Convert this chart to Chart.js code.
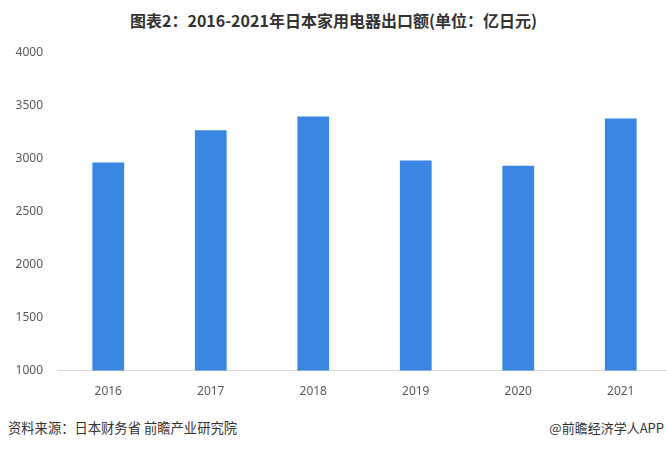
<!DOCTYPE html>
<html>
<head>
<meta charset="utf-8">
<script src="https://cdn.jsdelivr.net/npm/chart.js@4.4.1/dist/chart.umd.min.js"></script>
<style>
    html, body { margin: 0; padding: 0; background: #fff; overflow: hidden; }
    body { width: 667px; height: 449px; position: relative; font-family: "Noto Sans CJK SC", "Noto Sans", sans-serif; }
    #title { position: absolute; top: 8px; left: 0; width: 667px; text-align: center; font-size: 16px; font-weight: bold; color: #333; }
    #chartBox { position: absolute; top: 31px; left: 0; width: 672px; height: 374px; }
    #source { position: absolute; top: 418px; left: 8px; font-size: 13.3px; color: #333; }
    #brand { position: absolute; top: 418px; right: 3px; font-size: 13px; color: #333; }
</style>
</head>
<body>
<div id="title">图表2：2016-2021年日本家用电器出口额(单位：亿日元)</div>
<div id="chartBox"><canvas id="exportChart"></canvas></div>
<div id="source">资料来源：日本财务省 前瞻产业研究院</div>
<div id="brand">@前瞻经济学人APP</div>
<script>
// 年份和出口额（亿日元）
const years = ['2016', '2017', '2018', '2019', '2020', '2021'];
const exportValues = [2960, 3265, 3395, 2980, 2930, 3375];
const yMin = 1000;
const yMax = 4000;
const yStep = 500;

document.addEventListener('DOMContentLoaded', function () {
    renderExportChart();
});

/**
 * 渲染出口额柱状图
 */
function renderExportChart() {
    const ctx = document.getElementById('exportChart');
    if (!ctx) return;

    new Chart(ctx, {
        type: 'bar',
        data: {
            labels: years,
            datasets: [{
                label: '出口额',
                data: exportValues,
                backgroundColor: '#3a86e3',
                borderWidth: 0,
                categoryPercentage: 1,
                barPercentage: 0.31
            }]
        },
        options: {
            responsive: true,
            maintainAspectRatio: false,
            animation: false,
            layout: {
                padding: { top: 8, left: 0, right: 0, bottom: 0 }
            },
            plugins: {
                legend: { display: false },
                tooltip: { enabled: false }
            },
            scales: {
                x: {
                    grid: { display: false },
                    border: { display: true, color: '#d9d9d9', width: 1 },
                    ticks: {
                        color: '#595959',
                        padding: 6,
                        font: { size: 12, family: '"Noto Sans", sans-serif' }
                    }
                },
                y: {
                    min: yMin,
                    max: yMax,
                    grid: { display: false, drawTicks: false },
                    border: { display: false },
                    afterFit: function (scale) {
                        // 固定纵轴宽度，让绘图区从57px开始
                        scale.width = 57;
                    },
                    ticks: {
                        stepSize: yStep,
                        color: '#595959',
                        padding: 14,
                        font: { size: 12, family: '"Noto Sans", sans-serif' },
                        callback: function (value) {
                            return String(value);
                        }
                    }
                }
            }
        }
    });
}
</script>
</body>
</html>
